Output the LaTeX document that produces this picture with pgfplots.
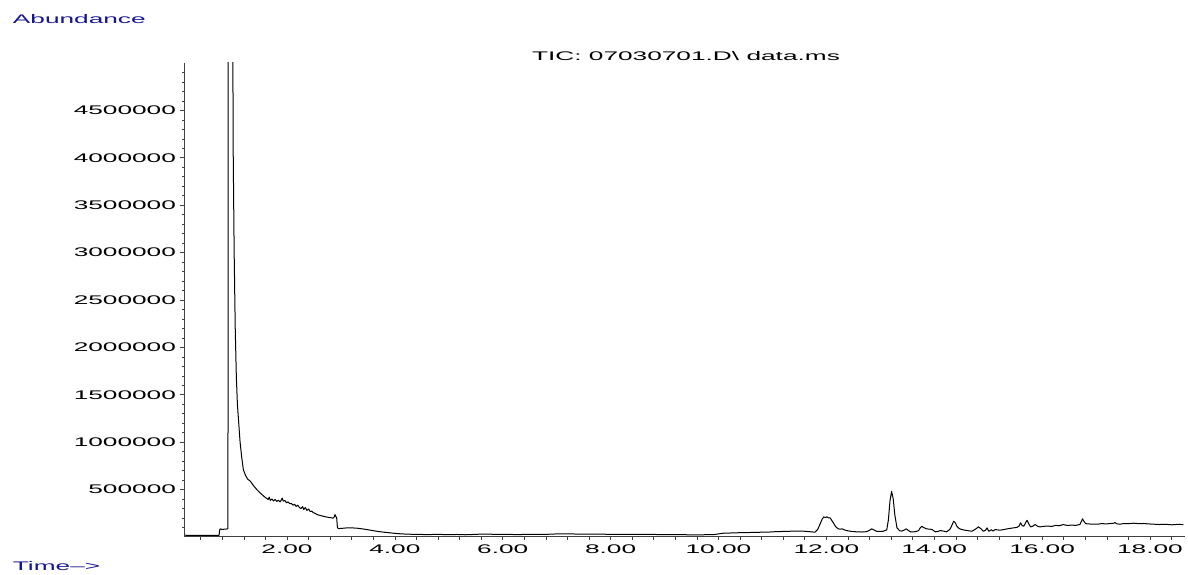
\documentclass[border=0pt]{standalone}
\usepackage{pgfplots}
\pgfplotsset{compat=1.18}
\usepackage{fontspec}
\setmainfont{Liberation Sans}
\newfontfamily\chartfont[FakeStretch=2.1]{Liberation Sans}
\definecolor{agblue}{RGB}{22,22,145}
\begin{document}
\begin{tikzpicture}
\path[use as bounding box] (0,0) rectangle (1188pt,575pt);
\begin{axis}[
  at={(184pt,39pt)}, anchor=south west,
  scale only axis, width=1001pt, height=473pt,
  xmin=0.09, xmax=18.65, ymin=10000, ymax=5000000,
  axis x line=bottom, axis y line=left,
  axis line style={-, black!75, line width=0.8pt},
  tick align=outside,
  xtick={2,4,...,18},
  extra x ticks={0.4,0.8,...,18.5},
  extra x tick labels={},
  ytick={500000,1000000,...,4500000},
  minor ytick={100000,200000,...,4900000},
  tick style={black!75, line width=0.6pt},
  major tick length=4.5pt, minor tick length=2pt,
  scaled y ticks=false,
  xticklabel={\pgfmathprintnumber[fixed,fixed zerofill,precision=2]{\tick}},
  yticklabel={\pgfmathprintnumber[fixed,precision=0,1000 sep={}]{\tick}},
  xticklabel style={yshift=-1pt},
  ticklabel style={font=\chartfont\fontsize{12.5}{13}\selectfont, text=black},
  /pgf/number format/assume math mode=true,
  clip=true,
]
\addplot[black, line width=1pt, line join=round] coordinates {
(0.11,18000)(0.30,17000)(0.50,16500)(0.74,17000)
(0.75,70000)(0.76,85000)(0.80,80000)(0.85,82000)(0.90,85000)(0.905,90000)
(0.912,9000000)(0.99,9000000)(0.996,5500000)
(1.00,4200000)(1.02,3000000)(1.04,2200000)(1.06,1700000)(1.08,1400000)(1.10,1240000)(1.13,1000000)(1.16,840000)(1.19,711000)(1.23,650000)(1.27,610000)(1.32,588000)(1.38,540000)(1.44,500000)(1.50,465000)(1.56,435000)(1.60,415000)(1.63,405000)
(1.65,395000)(1.67,420000)(1.69,385000)(1.72,400000)(1.75,380000)(1.78,395000)(1.81,375000)(1.84,388000)(1.87,370000)(1.89,385000)(1.91,410000)(1.93,378000)(1.96,385000)(1.99,360000)(2.02,370000)(2.05,350000)(2.08,355000)(2.11,335000)(2.14,345000)(2.17,322000)(2.20,335000)(2.23,310000)(2.26,300000)(2.29,320000)(2.31,290000)(2.34,310000)(2.37,280000)(2.40,295000)(2.43,268000)(2.46,272000)(2.49,255000)(2.52,250000)(2.55,238000)(2.58,232000)(2.62,226000)(2.66,220000)(2.70,214000)(2.74,210000)(2.78,205000)(2.82,203000)(2.85,198000)(2.87,205000)(2.89,236000)(2.91,210000)(2.92,205000)(2.935,96000)(2.96,88000)(3.00,90000)(3.10,95000)(3.20,96000)(3.30,92000)(3.40,85000)(3.50,76000)(3.60,66000)(3.70,57000)(3.80,50000)(3.90,44000)(4.00,38000)(4.10,33000)(4.25,29000)(4.40,27000)(4.60,25000)(4.80,27000)(5.00,24000)(5.15,26000)(5.30,23000)(5.45,26000)(5.60,30000)(5.70,31000)(5.85,27000)(6.00,28000)(6.25,25000)(6.50,27000)(6.75,26000)(7.00,32000)(7.20,33000)(7.40,30000)(7.60,29000)(7.80,30000)(8.00,27000)(8.25,28000)(8.50,26000)(8.75,27000)(9.00,24000)(9.25,25000)(9.50,22000)(9.70,23000)(9.90,24000)(10.10,40000)(10.25,42000)(10.40,45000)(10.60,47000)(10.80,50000)(10.95,52000)(11.10,57000)(11.25,58000)(11.40,62000)(11.60,60000)(11.79,50000)(11.84,80000)(11.88,131000)(11.92,185000)(11.95,212000)(11.98,205000)(12.01,212000)(12.04,200000)(12.07,201000)(12.10,175000)(12.13,149000)(12.17,110000)(12.22,85000)(12.26,82000)(12.29,86000)(12.33,75000)(12.38,67000)(12.47,58000)(12.56,54000)(12.66,52000)(12.75,56000)(12.80,70000)(12.84,85000)(12.88,75000)(12.93,60000)(13.05,60000)(13.12,75000)(13.15,180000)(13.18,380000)(13.21,482000)(13.24,400000)(13.27,230000)(13.31,96000)(13.36,65000)(13.40,62000)(13.45,75000)(13.48,85000)(13.52,68000)(13.56,54000)(13.65,55000)(13.71,67000)(13.74,95000)(13.77,113000)(13.80,100000)(13.86,85000)(13.92,82000)(13.96,78000)(14.02,54000)(14.07,58000)(14.11,67000)(14.17,62000)(14.23,54000)(14.29,80000)(14.32,113000)(14.36,166000)(14.39,150000)(14.42,113000)(14.46,90000)(14.51,78000)(14.60,68000)(14.70,60000)(14.76,80000)(14.82,106000)(14.87,85000)(14.91,60000)(14.95,70000)(14.98,96000)(15.01,60000)(15.06,75000)(15.09,62000)(15.13,78000)(15.22,71000)(15.35,85000)(15.47,96000)(15.53,100000)(15.57,113000)(15.60,149000)(15.63,120000)(15.66,113000)(15.72,176000)(15.76,130000)(15.79,106000)(15.83,115000)(15.87,131000)(15.92,112000)(15.96,106000)(16.03,112000)(16.10,115000)(16.18,111000)(16.25,122000)(16.32,118000)(16.39,131000)(16.47,121000)(16.55,125000)(16.62,122000)(16.70,131000)(16.73,165000)(16.75,191000)(16.78,160000)(16.81,140000)(16.90,136000)(17.02,134000)(17.10,140000)(17.20,138000)(17.33,145000)(17.35,152000)(17.38,140000)(17.44,134000)(17.52,142000)(17.60,140000)(17.70,145000)(17.80,140000)(17.88,142000)(17.96,138000)(18.05,135000)(18.18,131000)(18.28,134000)(18.40,128000)(18.50,132000)(18.62,131000)
};
\end{axis}
\node[anchor=base west, inner sep=0pt, text=agblue, font=\chartfont\fontsize{12.5}{13}\selectfont] at (12.7pt,551pt) {Abundance};
\node[anchor=base, inner sep=0pt, font=\chartfont\fontsize{12.5}{13}\selectfont] at (686pt,514pt) {TIC: 07030701.D\textbackslash{} data.ms};
\node[anchor=base west, inner sep=0pt, text=agblue, font=\chartfont\fontsize{12.5}{13}\selectfont] at (12.7pt,4.3pt) {Time\textendash>};
\end{tikzpicture}
\end{document}
